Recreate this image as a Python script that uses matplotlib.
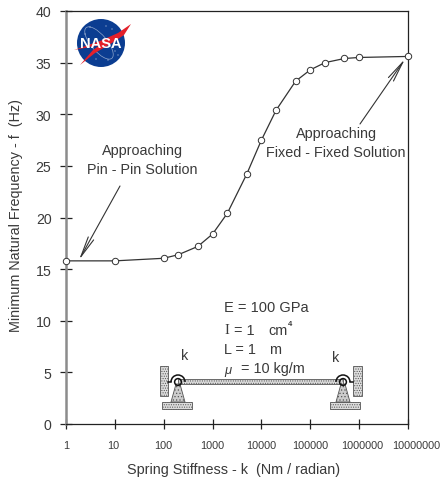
#!/usr/bin/env python3
# -*- coding: utf-8 -*-
import numpy as np
import matplotlib
matplotlib.use('Agg')
import matplotlib.pyplot as plt
from matplotlib.patches import Rectangle, Polygon, Circle, Ellipse, Arc
from matplotlib.transforms import ScaledTranslation

plt.rcParams['font.family'] = ['Liberation Sans', 'DejaVu Sans']
plt.rcParams['hatch.linewidth'] = 0.5

stiffness = [1, 10, 100, 200, 500, 1000, 2000, 5000, 10000, 20000, 50000,
             100000, 200000, 500000, 1000000, 10000000]
frequency = [15.8, 15.8, 16.05, 16.4, 17.2, 18.4, 20.4, 24.2, 27.5, 30.4,
             33.2, 34.3, 35.0, 35.4, 35.5, 35.6]
x_ticks = [1, 10, 100, 1000, 10000, 100000, 1000000, 10000000]
x_labels = ['1', '10', '100', '1000', '10000', '100000', '1000000', '10000000']
y_ticks = [0, 5, 10, 15, 20, 25, 30, 35, 40]

W, H = 445, 481
DARK = '#222222'
TXT = '#3a3a3a'
FS = 10.4

fig = plt.figure(figsize=(W / 100, H / 100), dpi=100)
ax = fig.add_axes([66 / W, (H - 425) / H, 342 / W, 413 / H])
ax.set_xscale('log')
ax.plot(stiffness, frequency, '-', color='#333333', lw=0.9, marker='o', ms=4.6,
        mfc='white', mec='#333333', mew=0.7, clip_on=False, zorder=5)
ax.set_xlim(1, 10000000)
ax.set_ylim(0, 40)
ax.set_xticks(x_ticks)
ax.set_xticklabels(x_labels)
ax.minorticks_off()
ax.set_yticks(y_ticks)
ax.tick_params(axis='x', direction='inout', length=7, width=0.9, color=DARK,
               labelsize=7.8, labelcolor=TXT, pad=8)
ax.tick_params(axis='y', direction='inout', length=9, width=0.9, color=DARK,
               labelsize=10.2, labelcolor=TXT, pad=6)
# the two longest labels sit a little right of their ticks in the original
for lab, dx in zip(ax.get_xticklabels(), [0, -2, 0, 0, 0, 0, 3, 8]):
    lab.set_transform(lab.get_transform() + ScaledTranslation(dx / 100, 0, fig.dpi_scale_trans))
ax.set_xlabel('Spring Stiffness - k  (Nm / radian)', fontsize=FS, color=TXT, labelpad=9)
ax.xaxis.label.set_x(0.49)
ax.set_ylabel('Minimum Natural Frequency - f  (Hz)', fontsize=FS, color=TXT)
ax.yaxis.set_label_coords(-43 / 342, 0.5 + 3 / 413)
for s in ['top', 'right', 'bottom']:
    ax.spines[s].set_color(DARK)
    ax.spines[s].set_linewidth(0.9)
ax.spines['left'].set_color('#8c8c8c')
ax.spines['left'].set_linewidth(1.8)

# overlay in pixel coordinates for the notes, the logo and the beam sketch
ov = fig.add_axes([0, 0, 1, 1], zorder=10)
ov.set_xlim(0, W)
ov.set_ylim(H, 0)
ov.axis('off')
ov.patch.set_alpha(0)

ov.text(142, 151, 'Approaching', ha='center', va='center', fontsize=FS, color=TXT)
ov.text(142, 170, 'Pin - Pin Solution', ha='center', va='center', fontsize=FS, color=TXT)
ov.text(336, 134, 'Approaching', ha='center', va='center', fontsize=FS, color=TXT)
ov.text(336, 153, 'Fixed - Fixed Solution', ha='center', va='center', fontsize=FS, color=TXT)
arrow = dict(arrowstyle='->,head_length=1.5,head_width=0.22', color='#333333',
             lw=0.8, shrinkA=0, shrinkB=0)
ov.annotate('', xy=(79, 261), xytext=(120, 187), arrowprops=arrow)
ov.annotate('', xy=(405, 60), xytext=(360, 125), arrowprops=arrow)

# NASA logo
ov.add_patch(Circle((101, 44), 24, fc='#0b3d91', ec='none'))
ov.add_patch(Ellipse((99, 44), 40, 16, angle=50, fc='none', ec='#8fa6cc', lw=0.5))
for sx, sy in [(90, 28), (106, 27), (115, 52), (118, 56), (96, 60), (108, 61), (85, 35), (112, 30)]:
    ov.add_patch(Circle((sx, sy), 0.5, fc='white', ec='none'))
ov.add_patch(Polygon([(74, 51), (100, 42), (118, 34), (131, 25), (124, 36), (112, 44),
                      (95, 54), (80, 66), (93, 51), (100, 46)], fc='#e3202a', ec='none'))
ov.text(101, 44.5, 'NASA', ha='center', va='center', fontsize=10.5, fontweight='bold',
        color='white', zorder=3)

# beam sketch
def box(x0, y0, x1, y1):
    ov.add_patch(Rectangle((x0, y0), x1 - x0, y1 - y0, fc='#dddddd', ec='#555555',
                           lw=0.6, hatch='.......'))

box(160, 367, 168, 397)
box(353, 367, 362, 397)
box(162, 403, 192, 410)
box(330, 403, 360, 410)
for cx in [178, 343]:
    ov.add_patch(Polygon([(cx - 7, 403), (cx + 7, 403), (cx + 2, 385), (cx - 2, 385)],
                         fc='#cccccc', ec='#555555', lw=0.6, hatch='.....'))
box(178, 379.5, 343, 384.5)
for cx, wall_x, end_x in [(178, 168, 171), (343, 353, 350)]:
    ov.add_patch(Circle((cx, 383), 3.4, fc='none', ec='#111111', lw=1.1))
    ov.add_patch(Arc((cx, 383), 14, 14, theta1=180, theta2=360, ec='#111111', lw=1.1))
    ov.plot([wall_x, end_x], [383, 383], color='#111111', lw=1.1)

ov.text(185, 356, 'k', ha='center', va='center', fontsize=FS, color=TXT)
ov.text(336, 358, 'k', ha='center', va='center', fontsize=FS, color=TXT)
ov.text(224, 308, 'E = 100 GPa', ha='left', va='center', fontsize=FS + 0.1, color=TXT)
ov.text(224, 331, 'I', ha='left', va='center', fontsize=FS, color=TXT, family='Liberation Serif')
ov.text(234, 331, '= 1', ha='left', va='center', fontsize=FS, color=TXT)
ov.text(268, 331, 'cm', ha='left', va='center', fontsize=FS, color=TXT)
ov.text(288, 325, '4', ha='left', va='center', fontsize=5.5, color=TXT, fontweight='bold')
ov.text(224, 350, 'L = 1', ha='left', va='center', fontsize=FS, color=TXT)
ov.text(269, 350, 'm', ha='left', va='center', fontsize=FS, color=TXT)
ov.text(224, 371, 'μ', ha='left', va='center', fontsize=FS - 1, color=TXT, style='italic')
ov.text(241, 369, '= 10 kg/m', ha='left', va='center', fontsize=FS, color=TXT)

plt.savefig('out.png', dpi=100)
